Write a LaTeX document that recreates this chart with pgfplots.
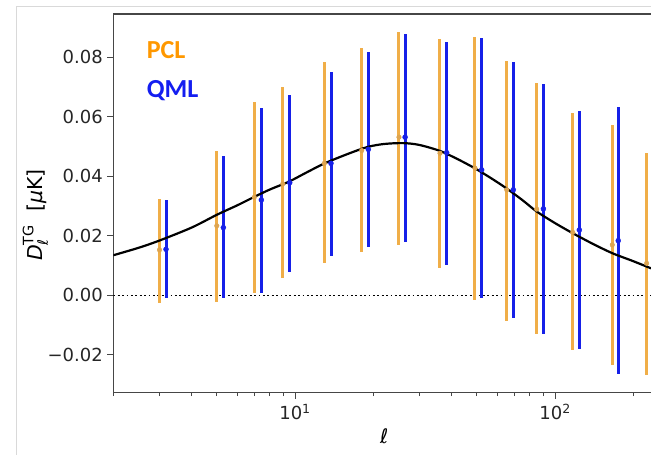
\documentclass[border=0pt]{standalone}
\usepackage{pgfplots}
\pgfplotsset{compat=1.18}
\usepackage{pgfplotstable}
\usepackage{fontspec}
\usepackage{amsmath}
\setmainfont{DejaVu Sans}
\newfontfamily\carlito{Carlito}
\definecolor{pclbar}{RGB}{240,174,72}
\definecolor{pclmark}{RGB}{222,165,80}
\definecolor{pcltext}{RGB}{255,152,0}
\definecolor{qmlbar}{RGB}{22,32,232}
\definecolor{qmltext}{RGB}{20,30,240}
\definecolor{spine}{RGB}{70,70,70}

\pgfplotstableread{
l y ep em
3.01 0.0153 0.0171 0.0178
5.00 0.0234 0.0252 0.0255
6.97 0.0330 0.0321 0.0323
8.97 0.0375 0.0327 0.0317
12.96 0.0444 0.0340 0.0336
18.05 0.0487 0.0344 0.0340
25.1 0.0532 0.0353 0.0362
36.1 0.0478 0.0383 0.0387
49.2 0.0428 0.0440 0.0443
65.2 0.0355 0.0434 0.0440
85.0 0.0290 0.0425 0.0419
117 0.0212 0.0402 0.0395
166 0.0170 0.0403 0.0404
225 0.0108 0.0372 0.0375
}\pcl

\pgfplotstableread{
l y ep em
3.19 0.0155 0.0166 0.0162
5.30 0.0228 0.0241 0.0235
7.42 0.0321 0.0308 0.0314
9.54 0.0379 0.0295 0.0299
13.75 0.0444 0.0308 0.0311
19.14 0.0491 0.0326 0.0329
26.5 0.0532 0.0346 0.0353
38.3 0.0480 0.0373 0.0377
52.2 0.0422 0.0443 0.0431
69.1 0.0355 0.0429 0.0430
90.2 0.0291 0.0420 0.0420
124 0.0220 0.0400 0.0401
175 0.0184 0.0449 0.0449
}\qml

\pgfplotstableread{
l y
2 0.0135
2.5 0.0160
3 0.0184
4 0.0228
5 0.0271
6 0.0303
7 0.0332
8 0.0356
9.5 0.0383
11 0.0412
13 0.0444
16 0.0476
19 0.0499
22 0.0509
26 0.0512
30 0.0506
36 0.0486
42 0.0459
49 0.0428
57 0.0393
65 0.0360
75 0.0320
85 0.0282
100 0.0243
117 0.0209
140 0.0173
166 0.0142
200 0.0115
234 0.0091
}\theory

\begin{document}
\begin{tikzpicture}
\useasboundingbox (0,0) rectangle (651pt,455pt);
\draw[gray!30, line width=1pt] (16pt,0) -- (16pt,448.3pt) -- (651pt,448.3pt);
\begin{axis}[
  at={(113.3pt,62.3pt)}, anchor=south west,
  scale only axis, width=537.7pt, height=378.7pt,
  xmode=log, xmin=2, xmax=233.9, ymin=-0.0327, ymax=0.0946,
  axis x line*=box, axis y line*=left,
  xtick pos=left,
  scaled y ticks=false,
  axis line style={spine, line width=1.1pt},
  tick align=outside,
  major tick length=6pt, minor tick length=3.5pt,
  every tick/.style={spine, line width=1pt},
  xtick={10,100}, xticklabels={10\textsuperscript{1},10\textsuperscript{2}},
  minor xtick={2,3,4,5,6,7,8,9,20,30,40,50,60,70,80,90,200},
  ytick={-0.02,0,0.02,0.04,0.06,0.08},
  yticklabels={−0.02,0.00,0.02,0.04,0.06,0.08},
  tick label style={font=\fontsize{18}{20}\selectfont, text=black!85},
  yticklabel style={xshift=-1pt},
  xticklabel style={yshift=-2pt},
  xlabel={\textit{ℓ}},
  xlabel style={font=\fontsize{20}{22}\selectfont, at={(axis description cs:0.504,-0.116)}, anchor=center},
  ylabel={$\textit{D}^{\text{TG}}_{\text{\itshape ℓ}}$\ \ [\textit{μ}K]},
  ylabel style={font=\fontsize{20.5}{22}\selectfont, at={(axis description cs:-0.145,0.469)}, anchor=center, rotate=0},
  clip=true,
]
\addplot[black, line width=1.8pt, dash pattern=on 1.8pt off 2.6pt] coordinates {(2,0) (233.9,0)};
\addplot[only marks, mark=*, mark size=2.3pt, color=pclmark,
  error bars/.cd, y dir=both, y explicit, error mark=none,
  error bar style={pclbar, line width=3pt}]
  table[x=l, y=y, y error plus=ep, y error minus=em] {\pcl};
\addplot[only marks, mark=*, mark size=2.5pt, color=qmlbar,
  error bars/.cd, y dir=both, y explicit, error mark=none,
  error bar style={qmlbar, line width=3pt}]
  table[x=l, y=y, y error plus=ep, y error minus=em] {\qml};
\addplot[black, line width=2.2pt, smooth] table[x=l, y=y] {\theory};
\node[anchor=west, inner sep=0pt, text=pcltext, font=\carlito\bfseries\fontsize{26}{28}\selectfont] at (rel axis cs:0.062,0.9036) {PCL};
\node[anchor=west, inner sep=0pt, text=qmltext, font=\carlito\bfseries\fontsize{26}{28}\selectfont] at (rel axis cs:0.062,0.798) {QML};
\end{axis}
\end{tikzpicture}
\end{document}
